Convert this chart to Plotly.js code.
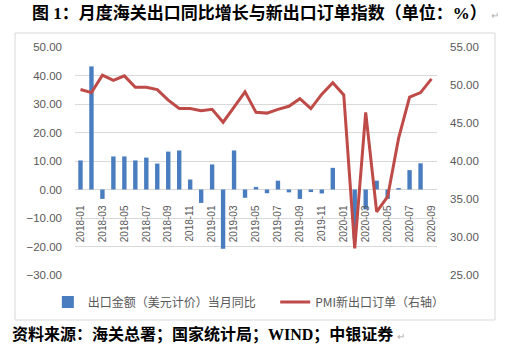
<!DOCTYPE html>
<html>
<head>
<meta charset="utf-8">
<script src="https://cdn.plot.ly/plotly-3.0.1.min.js"></script>
<style>
html,body{margin:0;padding:0;background:#fff;}
#chart{width:506px;height:358px;}
</style>
</head>
<body>
<div id="chart"></div>
<script>
var months = ['2018-01','2018-02','2018-03','2018-04','2018-05','2018-06','2018-07','2018-08','2018-09','2018-10','2018-11','2018-12',
              '2019-01','2019-02','2019-03','2019-04','2019-05','2019-06','2019-07','2019-08','2019-09','2019-10','2019-11','2019-12',
              '2020-01','2020-02','2020-03','2020-04','2020-05','2020-06','2020-07','2020-08','2020-09'];
var exportYoY = [10.2, 43.2, -3.3, 11.6, 11.6, 10.2, 11.2, 9.1, 13.3, 13.7, 3.5, -4.7,
                 8.8, -20.8, 13.7, -2.9, 0.9, -1.3, 3.1, -1.0, -3.3, -0.9, -1.4, 7.6,
                 null, -17.2, -7.0, 3.1, -3.3, 0.5, 6.8, 9.2, null];
var pmiNewExport = [49.4, 49.0, 51.3, 50.6, 51.2, 49.7, 49.7, 49.4, 48.0, 46.9, 46.9, 46.6,
                    46.8, 45.1, 47.1, 49.1, 46.4, 46.3, 46.8, 47.2, 48.2, 46.9, 48.8, 50.3,
                    48.7, 28.5, 46.4, 33.3, 35.3, 43.0, 48.4, 49.0, 50.8];
var tickLabels = ['2018-01','2018-03','2018-05','2018-07','2018-09','2018-11','2019-01','2019-03','2019-05',
                  '2019-07','2019-09','2019-11','2020-01','2020-03','2020-05','2020-07','2020-09'];
var barName = '出口金额（美元计价）当月同比';
var lineName = 'PMI新出口订单（右轴）';
var titleText = '图 1：月度海关出口同比增长与新出口订单指数（单位：%）';
var sourceText = '资料来源：海关总署；国家统计局；WIND；中银证券';

var leftRange = [-30, 50];
var zeroPos = (0 - leftRange[0]) / (leftRange[1] - leftRange[0]);

var tickFont = {family: 'Liberation Sans, Noto Sans CJK SC, sans-serif', size: 11.5, color: '#595959'};
var legendFont = {family: 'Noto Sans CJK SC, sans-serif', size: 12, color: '#595959'};
var boldSerif = 'Liberation Serif, Noto Sans CJK SC, serif';
var returnMark = ' <span style="color:#b0b0b0;font-size:10px;font-weight:normal">↵</span>';

var traces = [
  {type: 'bar', x: months, y: exportYoY, name: barName, marker: {color: '#4a7dbf'}, yaxis: 'y', legend: 'legend'},
  {type: 'scatter', mode: 'lines', x: months, y: pmiNewExport, name: lineName,
   line: {color: '#be4b48', width: 3}, yaxis: 'y2', legend: 'legend2'}
];

var layout = {
  width: 506, height: 358,
  margin: {l: 75, r: 69, t: 47, b: 83},
  paper_bgcolor: '#fff', plot_bgcolor: '#fff',
  bargap: 0.6,
  showlegend: true,
  legend: {orientation: 'h', x: -0.075, xanchor: 'left', y: -0.118, yanchor: 'middle',
           font: legendFont, bgcolor: 'rgba(0,0,0,0)'},
  legend2: {orientation: 'h', x: 0.553, xanchor: 'left', y: -0.118, yanchor: 'middle',
           font: legendFont, bgcolor: 'rgba(0,0,0,0)'},
  xaxis: {type: 'category', tickmode: 'array', tickvals: tickLabels, ticktext: tickLabels,
          tickangle: -90, tickfont: {family: 'Liberation Sans, sans-serif', size: 10, color: '#595959'},
          anchor: 'free', position: zeroPos, showline: false, ticks: '', showgrid: false,
          ticklabelstandoff: 13, zeroline: false, range: [-0.5, months.length - 0.5]},
  yaxis: {range: leftRange, dtick: 10, tickformat: '.2f', tickfont: tickFont,
          showgrid: true, gridcolor: '#d9d9d9', gridwidth: 1, zeroline: true, zerolinecolor: '#d9d9d9',
          zerolinewidth: 1, showline: false, ticks: '', ticklabelstandoff: 12},
  yaxis2: {range: [25, 55], dtick: 5, tickformat: '.2f', tickfont: tickFont, overlaying: 'y',
           side: 'right', showgrid: false, zeroline: false, showline: false, ticks: '',
           ticklabelstandoff: 12},
  shapes: [
    {type: 'rect', xref: 'paper', yref: 'paper', x0: -0.1657, x1: 1.1602, y0: -0.1974, y1: 1.0614,
     line: {color: '#d9d9d9', width: 1}, fillcolor: 'rgba(0,0,0,0)', layer: 'below'}
  ],
  annotations: [
    {xref: 'paper', yref: 'paper', x: -0.125, y: 1.149, xanchor: 'left', yanchor: 'middle', showarrow: false,
     text: '<b>' + titleText + '</b>' + returnMark, font: {family: boldSerif, size: 17, color: '#000'}},
    {xref: 'paper', yref: 'paper', x: -0.18, y: -0.259, xanchor: 'left', yanchor: 'middle', showarrow: false,
     text: '<b>' + sourceText + '</b>' + returnMark, font: {family: boldSerif, size: 16, color: '#000'}}
  ]
};

Plotly.newPlot('chart', traces, layout, {displayModeBar: false, staticPlot: true});
</script>
</body>
</html>
